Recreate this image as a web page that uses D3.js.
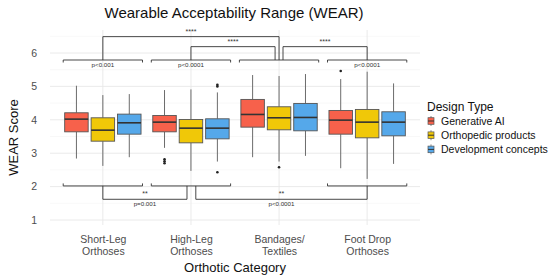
<!DOCTYPE html>
<html>
<head>
<meta charset="utf-8">
<script src="https://cdn.jsdelivr.net/npm/d3@7"></script>
<style>
  html, body { margin: 0; padding: 0; background: #fff; }
  svg { display: block; font-family: "Liberation Sans", Arial, sans-serif; }
</style>
</head>
<body>
<svg id="chart" width="550" height="279"></svg>
<script>
// ---------- DATA ----------
const categories = ["Short-Leg Orthoses", "High-Leg Orthoses", "Bandages/ Textiles", "Foot Drop Orthoses"];
const categoryLines = [["Short-Leg", "Orthoses"], ["High-Leg", "Orthoses"], ["Bandages/", "Textiles"], ["Foot Drop", "Orthoses"]];
const seriesNames = ["Generative AI", "Orthopedic products", "Development concepts"];
const seriesColors = ["#F7614B", "#F0C808", "#55A8EA"];
const yTicks = [1, 2, 3, 4, 5, 6];

// Box statistics per series, per category
const genAILower  = [2.84, 3.16, 2.88, 2.55];
const genAIQ1     = [3.64, 3.64, 3.78, 3.57];
const genAIMedian = [4.02, 3.93, 4.16, 3.99];
const genAIQ3     = [4.21, 4.13, 4.61, 4.28];
const genAIUpper  = [5.02, 4.89, 5.34, 5.22];
const genAIOutliers = [[], [2.82, 2.76, 2.70], [], [5.46]];

const orthoLower  = [2.62, 2.47, 2.75, 2.23];
const orthoQ1     = [3.36, 3.31, 3.70, 3.46];
const orthoMedian = [3.69, 3.75, 4.06, 3.93];
const orthoQ3     = [4.06, 4.01, 4.39, 4.31];
const orthoUpper  = [4.74, 4.91, 5.31, 5.44];
const orthoOutliers = [[], [], [2.58], []];

const devLower  = [2.88, 2.75, 2.92, 2.68];
const devQ1     = [3.57, 3.43, 3.67, 3.52];
const devMedian = [3.91, 3.75, 4.07, 3.93];
const devQ3     = [4.17, 4.03, 4.49, 4.24];
const devUpper  = [4.77, 4.82, 5.37, 5.09];
const devOutliers = [[], [5.00, 5.05, 2.43], [], []];

// Significance annotations
const topCatLabels = ["p<0.001", "p<0.0001", "", "p<0.0001"];
const topCatLevel = 5.79;
const bottomCatIdx = [0, 1, 3];
const bottomCatLevel = 2.02;
// cross-category brackets: [fromCat, fromShift, toCat, toShift, level, baseLevel, label, subLabel]
const crossBrackets = [
  [0, 0, 2, 0, 6.49, 5.79, "****", ""],
  [1, 0, 2, -0.045, 6.19, 5.79, "****", ""],
  [2, 0.045, 3, 0, 6.19, 5.79, "****", ""],
  [0, 0, 1, -0.045, 1.62, 2.02, "**", "p=0.001"],
  [1, 0.055, 3, 0, 1.62, 2.02, "**", "p<0.0001"]
];

// ---------- BUILD ----------
const series = [
  {lower: genAILower, q1: genAIQ1, med: genAIMedian, q3: genAIQ3, upper: genAIUpper, out: genAIOutliers},
  {lower: orthoLower, q1: orthoQ1, med: orthoMedian, q3: orthoQ3, upper: orthoUpper, out: orthoOutliers},
  {lower: devLower, q1: devQ1, med: devMedian, q3: devQ3, upper: devUpper, out: devOutliers}
];

const svg = d3.select("#chart");
const panel = {left: 50, right: 420, top: 30, bottom: 225};

const x = d3.scalePoint().domain(categories).range([panel.left, panel.right]).padding(0.6);
const step = x.step();
const dodge = d3.scaleBand().domain(seriesNames).range([-0.45 * step, 0.45 * step]);
const boxW = 0.8 / 3 * step;
const y = d3.scaleLinear().domain([1, 6]).range([220, 53]);
const yMin = y.invert(panel.bottom), yMax = y.invert(panel.top);

// grid
const g = svg.append("g");
const minor = d3.range(0.5, 7, 1).filter(v => v > yMin && v < yMax);
g.selectAll(".minor").data(minor).join("line")
  .attr("x1", panel.left).attr("x2", panel.right)
  .attr("y1", d => y(d)).attr("y2", d => y(d))
  .attr("stroke", "#f3f3f3").attr("stroke-width", 0.6);
g.selectAll(".major").data(yTicks).join("line")
  .attr("x1", panel.left).attr("x2", panel.right)
  .attr("y1", d => y(d)).attr("y2", d => y(d))
  .attr("stroke", "#e8e8e8").attr("stroke-width", 0.9);
g.selectAll(".vmajor").data(categories).join("line")
  .attr("x1", d => x(d)).attr("x2", d => x(d))
  .attr("y1", panel.top).attr("y2", panel.bottom)
  .attr("stroke", "#e8e8e8").attr("stroke-width", 0.9);

// boxes
series.forEach((s, si) => {
  const sg = svg.append("g");
  categories.forEach((c, ci) => {
    const cx = x(c) + dodge(seriesNames[si]) + dodge.bandwidth() / 2;
    sg.append("line").attr("x1", cx).attr("x2", cx)
      .attr("y1", y(s.q3[ci])).attr("y2", y(s.upper[ci]))
      .attr("stroke", "#6b6b6b").attr("stroke-width", 1);
    sg.append("line").attr("x1", cx).attr("x2", cx)
      .attr("y1", y(s.q1[ci])).attr("y2", y(s.lower[ci]))
      .attr("stroke", "#6b6b6b").attr("stroke-width", 1);
    sg.append("rect").attr("x", cx - boxW / 2).attr("width", boxW)
      .attr("y", y(s.q3[ci])).attr("height", y(s.q1[ci]) - y(s.q3[ci]))
      .attr("fill", seriesColors[si]).attr("stroke", "#555").attr("stroke-width", 0.9);
    sg.append("line").attr("x1", cx - boxW / 2).attr("x2", cx + boxW / 2)
      .attr("y1", y(s.med[ci])).attr("y2", y(s.med[ci]))
      .attr("stroke", "#333").attr("stroke-width", 1.6);
    sg.selectAll(null).data(s.out[ci]).join("circle")
      .attr("cx", cx).attr("cy", d => y(d)).attr("r", 1.3).attr("fill", "#222");
  });
});

// annotations
const ann = svg.append("g").attr("stroke", "#333").attr("stroke-width", 0.9).attr("fill", "none");
const annText = svg.append("g").attr("fill", "#333").attr("font-size", 6.2).attr("text-anchor", "middle");
const half = 0.45 * step;
categories.forEach((c, ci) => {
  const yl = y(topCatLevel);
  ann.append("path").attr("d", `M${x(c) - half},${yl + 2.5}V${yl}H${x(c) + half}V${yl + 2.5}`);
  if (topCatLabels[ci]) annText.append("text").attr("x", x(c)).attr("y", yl + 6.8).text(topCatLabels[ci]);
});
bottomCatIdx.forEach(ci => {
  const c = categories[ci];
  const yl = y(bottomCatLevel);
  ann.append("path").attr("d", `M${x(c) - half},${yl - 2.5}V${yl}H${x(c) + half}V${yl - 2.5}`);
});
crossBrackets.forEach(b => {
  const x1 = x(categories[b[0]]) + b[1] * step;
  const x2 = x(categories[b[2]]) + b[3] * step;
  const yl = y(b[4]), yb = y(b[5]);
  ann.append("path").attr("d", `M${x1},${yb}V${yl}H${x2}V${yb}`);
  const mx = (x1 + x2) / 2;
  const up = b[4] > b[5];
  annText.append("text").attr("x", mx).attr("y", up ? yl - 2.5 : yl - 3.5).attr("font-size", 7).text(b[6]);
  if (b[7]) annText.append("text").attr("x", mx).attr("y", yl + 7).text(b[7]);
});

// axes
const yAxis = svg.append("g").attr("transform", `translate(${panel.left},0)`)
  .call(d3.axisLeft(y).tickValues(yTicks).tickFormat(d3.format("d")).tickSize(0).tickPadding(13));
yAxis.select(".domain").remove();
yAxis.selectAll("text").attr("font-size", 10.5).attr("fill", "#4d4d4d").attr("font-family", "Liberation Sans, Arial, sans-serif");

const xAxis = svg.append("g").attr("transform", `translate(0,${panel.bottom})`)
  .call(d3.axisBottom(x).tickSize(0).tickFormat(""));
xAxis.select(".domain").remove();
xAxis.selectAll(".tick").each(function(d, i) {
  const t = d3.select(this).append("text").attr("fill", "#4d4d4d").attr("font-size", 10.5)
    .attr("text-anchor", "middle").attr("font-family", "Liberation Sans, Arial, sans-serif");
  categoryLines[i].forEach((ln, li) => t.append("tspan").attr("x", 0).attr("y", 18 + li * 11.5).text(ln));
});

// titles
svg.append("text").attr("x", 234).attr("y", 18).attr("text-anchor", "middle")
  .attr("font-size", 15).attr("fill", "#111").text("Wearable Acceptability Range (WEAR)");
svg.append("text").attr("x", 235).attr("y", 272).attr("text-anchor", "middle")
  .attr("font-size", 13).attr("fill", "#111").text("Orthotic Category");
svg.append("text").attr("transform", `translate(18,${(panel.top + panel.bottom) / 2 + 10}) rotate(-90)`)
  .attr("text-anchor", "middle").attr("font-size", 13).attr("fill", "#111").text("WEAR Score");

// legend
const lg = svg.append("g").attr("transform", "translate(427,0)");
lg.append("text").attr("x", 0).attr("y", 111).attr("font-size", 12).attr("fill", "#111").text("Design Type");
seriesNames.forEach((n, i) => {
  const cy = 121 + i * 14.2;
  const kx = 4;
  lg.append("line").attr("x1", kx).attr("x2", kx).attr("y1", cy - 5).attr("y2", cy + 5)
    .attr("stroke", "#6b6b6b").attr("stroke-width", 0.8);
  lg.append("rect").attr("x", kx - 3).attr("y", cy - 3.3).attr("width", 6).attr("height", 6.6)
    .attr("fill", seriesColors[i]).attr("stroke", "#555").attr("stroke-width", 0.7);
  lg.append("line").attr("x1", kx - 3).attr("x2", kx + 3).attr("y1", cy).attr("y2", cy)
    .attr("stroke", "#333").attr("stroke-width", 1);
  lg.append("text").attr("x", 14).attr("y", cy + 3.6).attr("font-size", 10.5).attr("fill", "#111").text(n);
});
</script>
</body>
</html>
